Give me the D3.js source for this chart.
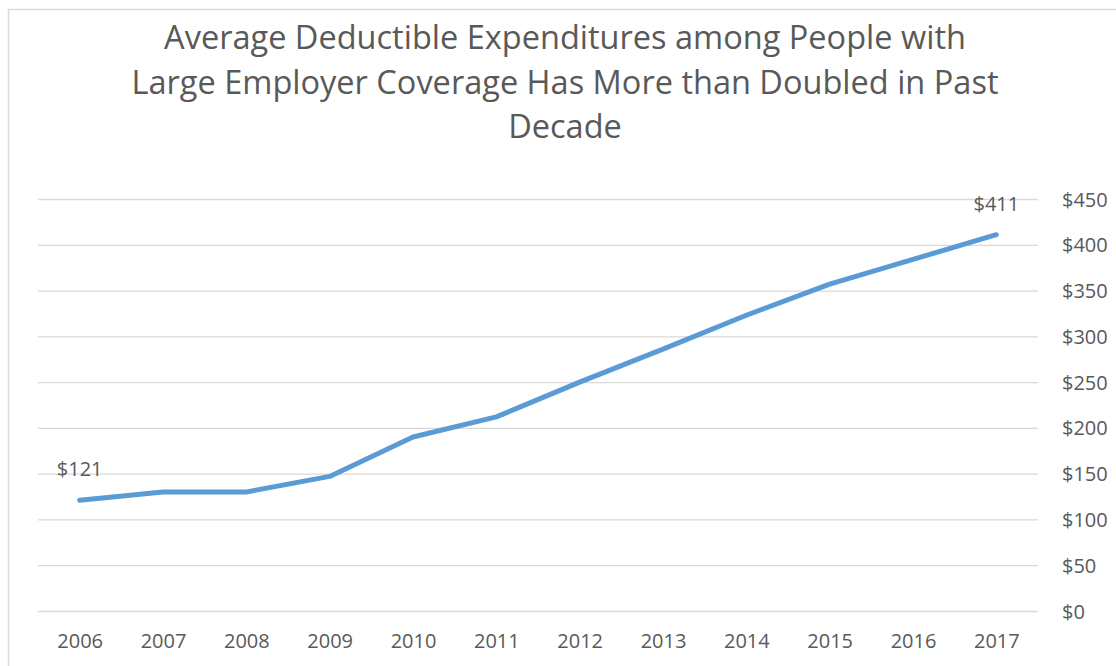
<!DOCTYPE html>
<html lang="en">
<head>
  <meta charset="UTF-8">
  <title>Average Deductible Expenditures</title>
  <style>
    body { margin: 0; background: #fff; }
    text { font-family: "Open Sans", "DejaVu Sans", sans-serif; fill: #595959; }
  </style>
</head>
<body>
<svg id="chart" width="1116" height="666"></svg>
<script src="https://d3js.org/d3.v7.min.js"></script>
<script>
  // chart data
  const years = ["2006", "2007", "2008", "2009", "2010", "2011", "2012", "2013", "2014", "2015", "2016", "2017"];
  const deductible = [121, 130, 130, 147, 190, 212, 250, 286, 323, 357, 384, 411];
  const yTicks = [0, 50, 100, 150, 200, 250, 300, 350, 400, 450];
  const titleLines = [
    "Average Deductible Expenditures among People with",
    "Large Employer Coverage Has More than Doubled in Past",
    "Decade"
  ];

  const svg = d3.select("#chart");
  const width = +svg.attr("width"),
    height = +svg.attr("height");
  const plot = { left: 38, right: 1038, top: 199, bottom: 611 };

  // outer chart border (cropped on the right and bottom in the picture)
  svg.append("rect")
    .attr("x", 8.5).attr("y", 9.5)
    .attr("width", width + 20).attr("height", height + 20)
    .attr("fill", "none")
    .attr("stroke", "#d9d9d9")
    .attr("stroke-width", 1.5);

  const x = d3.scalePoint()
    .domain(years)
    .range([plot.left, plot.right])
    .padding(0.5);

  const y = d3.scaleLinear()
    .domain([0, 450])
    .range([plot.bottom, plot.top]);

  // title, 3 lines
  const title = svg.append("g");
  title.selectAll("text")
    .data(titleLines)
    .join("text")
    .attr("x", 565)
    .attr("y", (d, i) => 49 + i * 44.5)
    .attr("text-anchor", "middle")
    .style("font-size", "30px")
    .text(d => d);
  // fit line 1 to the width it has in the picture
  const w1 = title.select("text").node().getComputedTextLength();
  title.selectAll("text").style("font-size", (30 * 802 / w1) + "px");

  // gridlines + right axis labels
  const yAxis = d3.axisRight(y)
    .tickValues(yTicks)
    .tickSize(plot.right - plot.left)
    .tickFormat(d => "$" + d);
  svg.append("g")
    .attr("transform", `translate(${plot.left},0)`)
    .call(yAxis)
    .call(g => g.select(".domain").remove())
    .call(g => g.selectAll(".tick line").attr("stroke", "#d9d9d9").attr("stroke-width", 1.3))
    .call(g => g.selectAll(".tick text")
      .attr("x", plot.right - plot.left + 24)
      .attr("dy", "0.35em")
      .style("font-size", "20px")
      .attr("fill", "#595959"));

  // x axis labels
  svg.append("g")
    .attr("transform", `translate(0,${plot.bottom})`)
    .call(d3.axisBottom(x).tickSize(0).tickPadding(0))
    .call(g => g.select(".domain").remove())
    .call(g => g.selectAll(".tick text")
      .attr("dy", null)
      .attr("y", 37)
      .style("font-size", "20px")
      .attr("fill", "#595959"));

  // the line
  const line = d3.line()
    .x((d, i) => x(years[i]))
    .y(d => y(d));
  svg.append("path")
    .datum(deductible)
    .attr("fill", "none")
    .attr("stroke", "#5b9bd5")
    .attr("stroke-width", 5)
    .attr("stroke-linejoin", "round")
    .attr("stroke-linecap", "round")
    .attr("d", line);

  // first and last value labels
  const labelIdx = [0, years.length - 1];
  svg.selectAll(".val")
    .data(labelIdx)
    .join("text")
    .attr("class", "val")
    .attr("x", i => x(years[i]))
    .attr("y", i => y(deductible[i]) - 24)
    .attr("text-anchor", "middle")
    .style("font-size", "20px")
    .text(i => "$" + deductible[i]);
</script>
</body>
</html>
